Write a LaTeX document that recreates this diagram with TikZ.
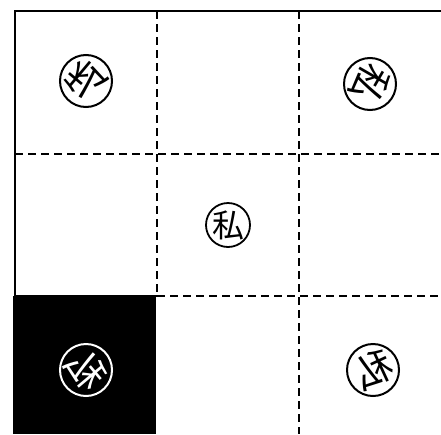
\documentclass[tikz,border=0pt]{standalone}
\usepackage{fontspec}
\newfontfamily\cjkfont{Noto Sans CJK JP}
\begin{document}
\begin{tikzpicture}[x=1pt,y=-1pt,
  grid/.style={line width=1.9pt,dash pattern=on 8pt off 5pt},
  solidb/.style={line width=2.6pt},
  mark circ/.style={circle,draw,line width=2pt,minimum size=52pt,inner sep=0pt},
  glyph/.style={font=\cjkfont\fontsize{38}{38}\selectfont}]
\useasboundingbox (0,0) rectangle (441,434);
\fill[white] (0,0) rectangle (441,434);
% black cell
\fill[black] (13,296) rectangle (156,434);
% dashed grid
\draw[grid] (15,154) -- (441,154);
\draw[grid] (157,296) -- (441,296);
\draw[grid] (157,11) -- (157,296);
\draw[grid] (299,11) -- (299,434);
% solid borders
\draw[solidb] (441,11) -- (15,11) -- (15,296) -- (157,296);
% circles
\node[mark circ] (tl) at (86,81) {};
\node[glyph,rotate=140,xscale=-1] at (tl) {私};
\node[mark circ] (tr) at (370,84) {};
\node[glyph,rotate=-120] at (tr) {私};
\node[circle,draw,line width=1.8pt,minimum size=44pt,inner sep=0pt] (mid) at (228,225) {};
\node[font=\cjkfont\fontsize{32}{32}\selectfont] at (mid) {私};
\node[mark circ,draw=white,text=white] (bl) at (86,370) {};
\node[glyph,text=white,rotate=-50,xscale=-1] at (bl) {私};
\node[mark circ] (br) at (373,370) {};
\node[glyph,rotate=25,xscale=-1] at (br) {私};
\end{tikzpicture}
\end{document}
